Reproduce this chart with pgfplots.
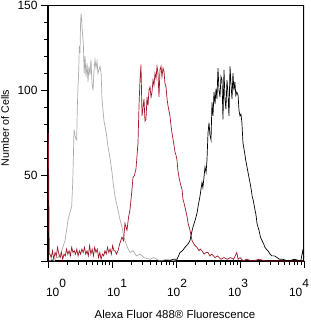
\documentclass[border=0pt]{standalone}
\usepackage{fontspec}
\setmainfont{Liberation Sans}
\usepackage{pgfplots}
\pgfplotsset{compat=1.18}
\definecolor{cgray}{RGB}{172,172,172}
\definecolor{cred}{RGB}{158,24,40}
\newcommand{\tl}[2]{\hbox to 0pt{\hss\kern#2 10\raisebox{0.7em}{#1}\hss}}
\begin{document}
\begin{tikzpicture}
\useasboundingbox (-48bp,-59bp) rectangle (263bp,261bp);
\begin{axis}[
  at={(0,0)}, anchor=south west,
  scale only axis, width=256bp, height=256bp,
  xmin=0, xmax=4, ymin=0, ymax=150,
  axis x line*=bottom, axis y line*=left,
  axis line style={line width=1.5pt},
  xtick={0,1,2,3,4},
  xticklabels={\tl{0}{16bp},\tl{1}{10bp},\tl{2}{2bp},\tl{3}{-4bp},\tl{4}{-10bp}},
  minor xtick={0.301,0.477,0.602,0.699,0.778,0.845,0.903,0.954,
    1.301,1.477,1.602,1.699,1.778,1.845,1.903,1.954,
    2.301,2.477,2.602,2.699,2.778,2.845,2.903,2.954,
    3.301,3.477,3.602,3.699,3.778,3.845,3.903,3.954},
  ytick={0,50,100,150},
  yticklabels={,50,100,150},
  minor ytick={10,20,30,40,60,70,80,90,110,120,130,140},
  tick align=outside,
  major tick length=7bp, minor tick length=4bp,
  every tick/.style={black, line width=0.8pt},
  tick label style={font=\fontsize{12}{14}\selectfont},
  xticklabel style={anchor=north, yshift=-8bp},
  xlabel={Alexa Fluor 488\textregistered{} Fluorescence},
  ylabel={Number of Cells},
  xlabel style={font=\fontsize{11.5}{13}\selectfont, at={(axis description cs:0.496,0)}, anchor=base, yshift=-57bp},
  ylabel style={font=\fontsize{10.7}{13}\selectfont, at={(axis description cs:-0.168,0.52)}, anchor=center},
  clip=true,
]
\addplot[cgray, line width=0.7pt] coordinates {
(0.02,0)(0.06,1)(0.10,0)(0.13,2)(0.156,2)(0.19,4)(0.214,6)(0.24,9)(0.266,12)(0.29,18)(0.3125,24)(0.34,28)(0.37,32)(0.385,45)(0.395,58)(0.406,77)(0.43,72)(0.448,71)(0.458,90)(0.469,102)(0.48,112)(0.49,126)(0.5,122)(0.508,138)(0.516,145)(0.525,142)(0.535,135)(0.552,128)(0.565,110)(0.578,120)(0.594,108)(0.61,116)(0.625,105)(0.64,114)(0.656,109)(0.672,118)(0.6875,104)(0.703,100)(0.72,112)(0.734,118)(0.75,113)(0.766,117)(0.78,110)(0.8125,114)(0.83,110)(0.844,95)(0.86,88)(0.875,82)(0.891,79)(0.91,75)(0.9375,67)(0.97,60)(1.0,52)(1.02,45)(1.047,38)(1.07,34)(1.094,30)(1.12,25)(1.156,20)(1.18,15)(1.203,12)(1.24,8)(1.28,5)(1.33,6)(1.38,3)(1.4375,4)(1.5,2)(1.594,1)(1.65,2)(1.75,0)(1.85,1)(2.0,0)
};
\addplot[cred, line width=0.7pt] coordinates {
(0.005,75)(0.02,4)(0.03,4)(0.05,2)(0.07,6)(0.09,1)(0.11,5)(0.13,3)(0.15,8)(0.17,4)(0.19,2)(0.21,5)(0.23,1)(0.25,4)(0.27,3)(0.29,7)(0.31,4)(0.33,6)(0.35,3)(0.37,8)(0.39,5)(0.41,6)(0.43,4)(0.45,7)(0.47,3)(0.49,6)(0.51,4)(0.53,7)(0.55,5)(0.57,8)(0.59,4)(0.61,6)(0.63,3)(0.65,9)(0.67,4)(0.69,7)(0.71,3)(0.73,8)(0.75,5)(0.77,7)(0.79,2)(0.81,5)(0.83,1)(0.85,4)(0.87,3)(0.89,6)(0.91,4)(0.93,8)(0.95,5)(0.97,7)(0.99,4)(1.01,9)(1.03,6)(1.047,6)
(1.07,4)(1.094,6)(1.12,10)(1.156,14)(1.18,12)(1.203,22)(1.234,18)(1.26,26)(1.281,30)(1.3125,42)(1.328,49)(1.35,50)(1.375,54)(1.406,69)(1.422,91)(1.4375,106)(1.453,115)(1.469,85)(1.485,90)(1.5,95)(1.515,82)(1.531,83)(1.547,96)(1.5625,91)(1.578,100)(1.594,102)(1.61,96)(1.625,99)(1.641,106)(1.656,103)(1.672,110)(1.688,107)(1.703,114)(1.719,110)(1.734,96)(1.75,112)(1.766,114)(1.781,108)(1.797,113)(1.8125,111)(1.828,104)(1.844,102)(1.86,95)(1.875,91)(1.89,88)(1.906,85)(1.92,80)(1.9375,75)(1.96,70)(1.984,64)(2.0,62)(2.016,59)(2.03,53)(2.047,49)(2.07,45)(2.094,42)(2.11,36)(2.125,34)(2.15,30)(2.172,26)(2.19,22)(2.219,18)(2.235,15)(2.25,12)(2.28,10)(2.3,9)(2.328,8)(2.36,6)(2.38,7)(2.406,6)(2.44,4)(2.47,5)(2.5,5)(2.53,3)(2.56,4)(2.61,2)(2.65,3)(2.7,1)(2.75,2)(2.8,1)(2.85,2)(2.9,1)(2.95,5)(2.97,1)(3.0,2)(3.05,0)(3.1,1)(3.2,0)(3.3,1)(3.4,0)(4,0)
};
\addplot[black, line width=0.7pt] coordinates {
(1.5,0)(1.9,0)(1.95,1)(2.016,1)(2.04,3)(2.0625,5)(2.1,6)(2.14,8)(2.1875,10)(2.219,12)(2.24,16)(2.266,20)(2.3,24)(2.328,28)(2.35,33)(2.375,38)(2.39,42)(2.406,46)(2.42,43)(2.44,50)(2.453,55)(2.47,52)(2.484,59)(2.5,75)(2.516,81)(2.53,74)(2.547,71)(2.5625,93)(2.578,85)(2.594,99)(2.61,92)(2.625,101)(2.64,95)(2.656,113)(2.672,100)(2.6875,96)(2.703,108)(2.719,106)(2.734,83)(2.75,112)(2.765,95)(2.78,89)(2.797,106)(2.812,98)(2.828,85)(2.844,114)(2.86,103)(2.875,95)(2.89,110)(2.905,100)(2.92,105)(2.935,97)(2.95,99)(2.97,97)(2.985,88)(3.0,85)(3.015,86)(3.03,81)(3.047,69)(3.07,64)(3.09,59)(3.11,55)(3.125,52)(3.14,49)(3.156,46)(3.175,42)(3.19,38)(3.21,35)(3.234,30)(3.25,27)(3.266,22)(3.28,20)(3.297,18)(3.32,14)(3.344,12)(3.37,10)(3.39,8)(3.41,7)(3.4375,6)(3.47,4)(3.5,3)(3.54,3)(3.58,2)(3.62,1)(3.67,1)(3.75,0)(3.85,1)(3.95,0)(3.98,6)(4.0,2)
};
\draw[black, line width=0.8pt] (rel axis cs:0,1) -- (rel axis cs:1,1);
\draw[black, line width=1.5pt] (rel axis cs:1,0) -- (rel axis cs:1,1);
\end{axis}
\end{tikzpicture}
\end{document}
